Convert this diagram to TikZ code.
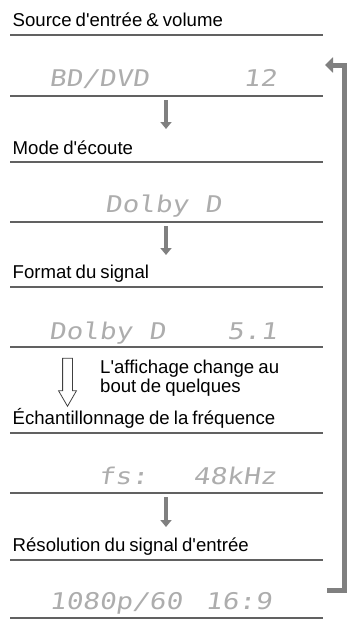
\documentclass[tikz,border=0pt]{standalone}
\usepackage{fontspec}
\setmainfont{Liberation Sans}[Ligatures=TeXOff]
\newfontfamily\lcdfont[FakeSlant=0.15,FakeStretch=1.2]{DejaVu Sans Mono}
\usepackage{xcolor}
\usepackage{tikz}
\usetikzlibrary{arrows.meta,positioning,shapes.arrows}

\definecolor{rulegray}{gray}{0.38}
\definecolor{arrowgray}{gray}{0.5}
\definecolor{lcdgray}{gray}{0.68}

\newcommand{\headfont}{\fontsize{18.6}{19}\selectfont\spaceskip=0.22em plus 0.05em\relax}

\begin{document}
\begin{tikzpicture}[x=1pt, y=-1pt,
    heading/.style={anchor=base west, inner sep=0pt, font=\headfont},
    lcd/.style={anchor=base west, inner sep=0pt, text=lcdgray, font=\lcdfont\fontsize{23}{25}\selectfont},
    sep/.style={draw=rulegray, line width=1.3pt},
    arrow/.style={-{Triangle[width=11pt,length=7pt]}, draw=arrowgray, line width=4pt},
    looparrow/.style={-{Triangle[width=15pt,length=8pt]}, draw=arrowgray, line width=5pt, line join=miter},
    hollow/.style={single arrow, draw=black!75, line width=0.8pt, rotate=-90, inner xsep=0pt, inner ysep=4.5pt,
                   minimum height=48pt, single arrow head extend=4pt, single arrow tip angle=60}
]
\useasboundingbox (0,0) rectangle (351,621);

% headings
\node[heading] (hsrc)  at (12.5,26.5) {Source d'entrée \& volume};
\node[heading] (hmode) at (12.5,154)  {Mode d'écoute};
\node[heading] (hfmt)  at (12.5,278)  {Format du signal};
\node[heading] (hfs)   at (12.5,424)  {Échantillonnage de la fréquence};
\node[heading] (hres)  at (12.5,551)  {Résolution du signal d'entrée};

% display lines
\node[lcd] (src)   at (49,86.5)   {BD/DVD};
\node[lcd] (vol)   at (243,86.5)  {12};
\node[lcd] (mode)  at (105,212.5) {Dolby D};
\node[lcd] (fmt)   at (49,339.5)  {Dolby D};
\node[lcd] (ch)    at (227,339.5) {5.1};
\node[lcd] (fs)    at (98,484.5)  {fs:};
\node[lcd] (rate)  at (193,484.5) {48kHz};
\node[lcd] (res)   at (49,609.5)  {1080p/60};
\node[lcd] (ratio) at (205,609.5) {16:9};

% rules
\draw[sep] (10,35) -- (323,35);   \draw[sep] (10,96) -- (323,96);
\draw[sep] (10,162) -- (323,162); \draw[sep] (10,222) -- (323,222);
\draw[sep] (10,287) -- (323,287); \draw[sep] (10,347) -- (323,347);
\draw[sep] (10,433) -- (323,433); \draw[sep] (10,493) -- (323,493);
\draw[sep] (10,560) -- (323,560); \draw[sep] (10,618) -- (323,618);

% step arrows
\coordinate (a1s) at (166,100); \coordinate (a1e) at (166,129);
\coordinate (a2s) at (166,226); \coordinate (a2e) at (166,255);
\coordinate (a4s) at (166,497); \coordinate (a4e) at (166,527);
\draw[arrow] (a1s) -- (a1e);
\draw[arrow] (a2s) -- (a2e);
\draw[arrow] (a4s) -- (a4e);

\node[hollow] (wait) at (67.5,378) {};
\node[heading, anchor=north west, align=left] (note) at (100,360) {L'affichage change au\\bout de quelques};

% return loop
\coordinate (lb) at (327,590); \coordinate (lbr) at (344.5,590);
\coordinate (ltr) at (344.5,65); \coordinate (lt) at (325,65);
\draw[looparrow] (lb) -- (lbr) -- (ltr) -- (lt);
\end{tikzpicture}
\end{document}
